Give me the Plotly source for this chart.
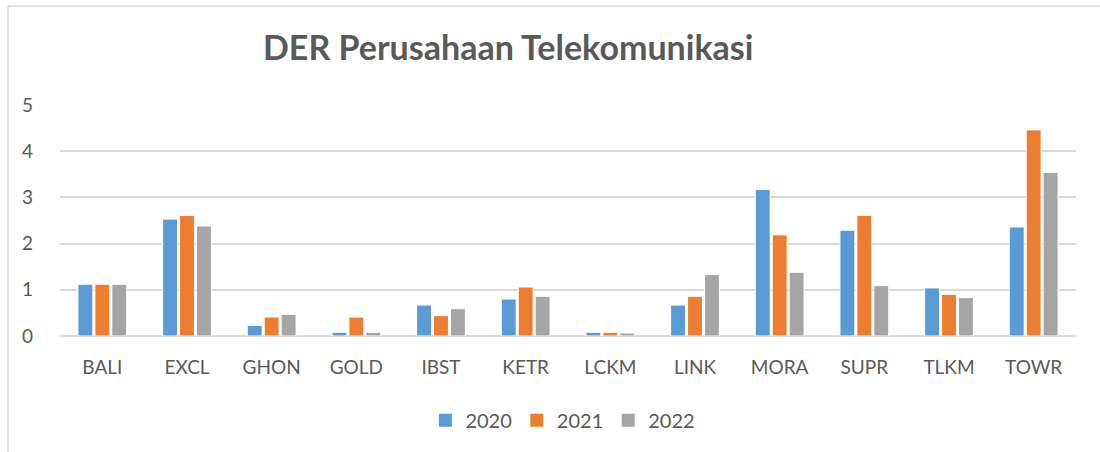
import plotly.graph_objects as go

categories = ["BALI", "EXCL", "GHON", "GOLD", "IBST", "KETR", "LCKM", "LINK", "MORA", "SUPR", "TLKM", "TOWR"]
der_2020 = [1.12, 2.53, 0.23, 0.08, 0.67, 0.80, 0.08, 0.67, 3.17, 2.29, 1.04, 2.36]
der_2021 = [1.12, 2.61, 0.41, 0.41, 0.44, 1.06, 0.08, 0.86, 2.19, 2.61, 0.90, 4.46]
der_2022 = [1.12, 2.38, 0.47, 0.08, 0.59, 0.86, 0.065, 1.33, 1.38, 1.09, 0.83, 3.54]
series_names = ["2020", "2021", "2022"]
colors = ["#5B9BD5", "#ED7D31", "#A5A5A5"]

FONT = "Lato"
TXT = "#595959"

fig = go.Figure()
for name, vals, col in zip(series_names, [der_2020, der_2021, der_2022], colors):
    fig.add_trace(go.Bar(x=categories, y=vals, name=name, legendgroup=name, showlegend=False,
                         marker=dict(color=col, line=dict(color="white", width=1))))
for name, col in zip(series_names, colors):
    fig.add_trace(go.Scatter(x=[None], y=[None], mode="markers", name=name, legendgroup=name,
                             marker=dict(symbol="square", size=13, color=col)))

fig.update_layout(
    width=1100, height=452,
    margin=dict(l=60, r=24, t=105, b=116),
    paper_bgcolor="white", plot_bgcolor="white",
    barmode="group", bargap=0.40, bargroupgap=0.12,
    title=dict(text="<b>DER Perusahaan Telekomunikasi</b>", x=0.462, xanchor="center",
               y=1 - 48 / 452, yanchor="middle",
               font=dict(family=FONT, size=34, color=TXT)),
    font=dict(family=FONT, color=TXT),
    showlegend=True,
    legend=dict(orientation="h", x=0.495, xanchor="center", y=-0.365, yanchor="middle",
                font=dict(family=FONT, size=20, color=TXT), itemwidth=30,
                traceorder="normal"),
    xaxis=dict(showgrid=False, showline=False, ticks="", tickfont=dict(size=19, color=TXT),
               ticklabelstandoff=18),
    yaxis=dict(range=[0, 5], dtick=1, showgrid=True, gridcolor="#D9D9D9", gridwidth=1.5,
               zeroline=True, zerolinecolor="#D9D9D9", zerolinewidth=1.5,
               showline=False, ticks="", tickfont=dict(size=19, color=TXT),
               ticklabelstandoff=26),
    shapes=[
        dict(type="line", xref="paper", yref="paper",
             x0=(8 - 60) / 1016, x1=(1105 - 60) / 1016,
             y0=(336 - 6) / 231, y1=(336 - 6) / 231,
             line=dict(color="#D9D9D9", width=1.5)),
        dict(type="line", xref="paper", yref="paper",
             x0=(8 - 60) / 1016, x1=(8 - 60) / 1016,
             y0=(336 - 6) / 231, y1=(336 - 460) / 231,
             line=dict(color="#D9D9D9", width=1.5)),
    ],
)

fig.write_html("out.html", config={"displayModeBar": False},
               post_script="document.body.style.margin='0';")
